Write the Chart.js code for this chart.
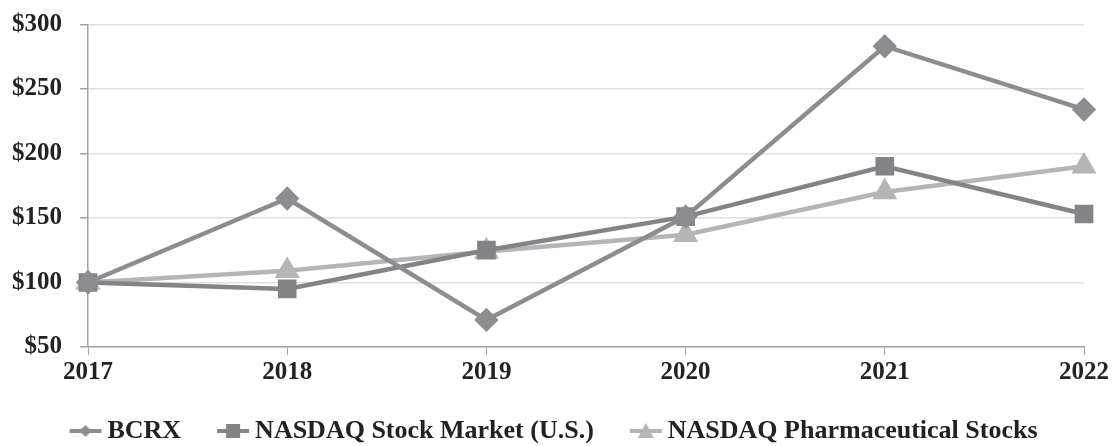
<!DOCTYPE html>
<html>
<head>
<meta charset="utf-8">
<script src="https://cdn.jsdelivr.net/npm/chart.js@4"></script>
<style>
  html, body { margin: 0; padding: 0; background: #fff; }
  #wrap { width: 1112px; height: 446px; }
</style>
</head>
<body>
<div id="wrap"><canvas id="perfChart"></canvas></div>
<script>
const years = ['2017', '2018', '2019', '2020', '2021', '2022'];
const bcrx = [100, 165, 71, 151, 283, 234];
const nasdaqMarket = [100, 95, 125, 151, 190, 153];
const nasdaqPharma = [100, 109, 124, 137, 170, 190];
const yTicks = [50, 100, 150, 200, 250, 300];

const colors = {
  bcrx: '#8d8d91',
  market: '#838388',
  pharma: '#b5b5b7',
};

// legend swatch: short line with the series marker in the middle,
// drawn in the right part of the image so it sits just before the text
function legendSwatch(color, shape) {
  const c = document.createElement('canvas');
  c.width = 54;
  c.height = 20;
  const g = c.getContext('2d');
  g.translate(19, 0);
  g.strokeStyle = color;
  g.fillStyle = color;
  g.lineWidth = 4;
  g.beginPath();
  g.moveTo(0, 10);
  g.lineTo(32, 10);
  g.stroke();
  g.beginPath();
  if (shape === 'diamond') {
    g.moveTo(16, 4); g.lineTo(22, 10); g.lineTo(16, 16); g.lineTo(10, 10);
  } else if (shape === 'square') {
    g.rect(9, 3, 14, 14);
  } else {
    g.moveTo(16, 2); g.lineTo(24, 17); g.lineTo(8, 17);
  }
  g.closePath();
  g.fill();
  return c;
}

const serif = '"Liberation Serif", "Times New Roman", serif';
const tickFont = { family: serif, size: 25, weight: 'bold' };
const legendFont = { family: serif, size: 26, weight: 'bold' };

function bootstrap() {
  const ctx = document.getElementById('perfChart');
  const swatches = [
    legendSwatch(colors.bcrx, 'diamond'),
    legendSwatch(colors.market, 'square'),
    legendSwatch(colors.pharma, 'triangle'),
  ];

  const data = {
    labels: years,
    datasets: [
      {
        label: 'BCRX',
        data: bcrx,
        borderColor: colors.bcrx,
        backgroundColor: colors.bcrx,
        borderWidth: 4.5,
        pointStyle: 'rectRot',
        pointRadius: 9,
        tension: 0,
        order: 1,
      },
      {
        label: 'NASDAQ Stock Market (U.S.)',
        data: nasdaqMarket,
        borderColor: colors.market,
        backgroundColor: colors.market,
        borderWidth: 4.5,
        pointStyle: 'rect',
        pointRadius: 10,
        tension: 0,
        order: 2,
      },
      {
        label: 'NASDAQ Pharmaceutical Stocks',
        data: nasdaqPharma,
        borderColor: colors.pharma,
        backgroundColor: colors.pharma,
        borderWidth: 4.5,
        pointStyle: 'triangle',
        pointRadius: 10,
        tension: 0,
        order: 3,
      },
    ],
  };

  new Chart(ctx, {
    type: 'line',
    data,
    options: {
      responsive: true,
      maintainAspectRatio: false,
      animation: false,
      layout: { padding: { left: 0, right: 14, top: 0, bottom: -8 } },
      scales: {
        x: {
          offset: false,
          grid: { drawOnChartArea: false, drawTicks: true, tickLength: 8, color: '#a3a3a7' },
          border: { color: '#a3a3a7', width: 1.5 },
          ticks: { font: tickFont, color: '#222', padding: 3, maxRotation: 0 },
        },
        y: {
          min: 50,
          max: 300,
          afterFit: (scale) => { scale.width = 88; },
          afterBuildTicks: (axis) => { axis.ticks = yTicks.map((v) => ({ value: v })); },
          grid: { color: '#e0e0e0', lineWidth: 1.5, tickLength: 8, tickColor: '#a3a3a7' },
          border: { color: '#a3a3a7', width: 1.5 },
          ticks: {
            font: { ...tickFont, lineHeight: 0.5 },
            color: '#222',
            padding: 18,
            callback: (v) => '$' + v,
          },
        },
      },
      plugins: {
        tooltip: { enabled: false },
        legend: {
          position: 'bottom',
          labels: {
            usePointStyle: true,
            pointStyleWidth: 34,
            padding: 27,
            color: '#222',
            font: legendFont,
            generateLabels: (chart) => chart.data.datasets.map((ds, i) => ({
              text: ds.label,
              pointStyle: swatches[i],
              fillStyle: ds.borderColor,
              strokeStyle: ds.borderColor,
              lineWidth: 0,
              datasetIndex: i,
              hidden: false,
              fontColor: '#222',
            })),
          },
        },
      },
    },
  });
}

document.addEventListener('DOMContentLoaded', bootstrap);
</script>
</body>
</html>
